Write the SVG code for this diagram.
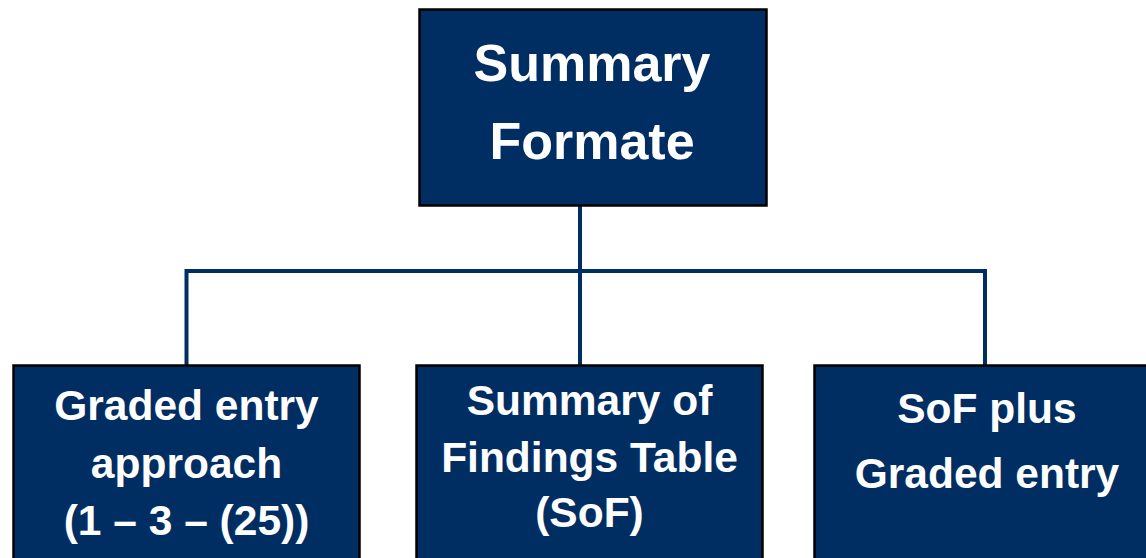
<svg xmlns="http://www.w3.org/2000/svg" width="1146" height="558" viewBox="0 0 1146 558">
<style>
.box{fill:#002D62;stroke:#000;stroke-width:2.5}
.t{font-family:"Liberation Sans",Arial,sans-serif;font-weight:bold;fill:#fff;text-anchor:middle}
.big{font-size:52px}
.sm{font-size:42.5px}
.conn{fill:none;stroke:#002D62;stroke-width:4;stroke-linejoin:miter}
</style>
<rect width="1146" height="558" fill="#fff"/>
<g id="connectors">
<path class="conn" d="M580 206 V365"/>
<path class="conn" d="M186.5 365 V271 H985 V365"/>
</g>
<g id="top">
<rect class="box" x="419.5" y="9.5" width="347" height="196"/>
<text class="t big" x="592" y="81">Summary</text>
<text class="t big" x="592" y="159">Formate</text>
</g>
<g id="graded">
<rect class="box" x="13.5" y="365.5" width="346" height="200"/>
<text class="t sm" x="186.5" y="420">Graded entry</text>
<text class="t sm" x="186.5" y="478">approach</text>
<text class="t sm" x="186.5" y="535">(1 – 3 – (25))</text>
</g>
<g id="sof">
<rect class="box" x="416.5" y="365.5" width="346" height="200"/>
<text class="t sm" x="589.5" y="415">Summary of</text>
<text class="t sm" x="589.5" y="472">Findings Table</text>
<text class="t sm" x="589.5" y="527">(SoF)</text>
</g>
<g id="sofplus">
<rect class="box" x="814.5" y="365.5" width="346" height="200"/>
<text class="t sm" x="987" y="423">SoF plus</text>
<text class="t sm" x="987" y="488">Graded entry</text>
</g>
</svg>
